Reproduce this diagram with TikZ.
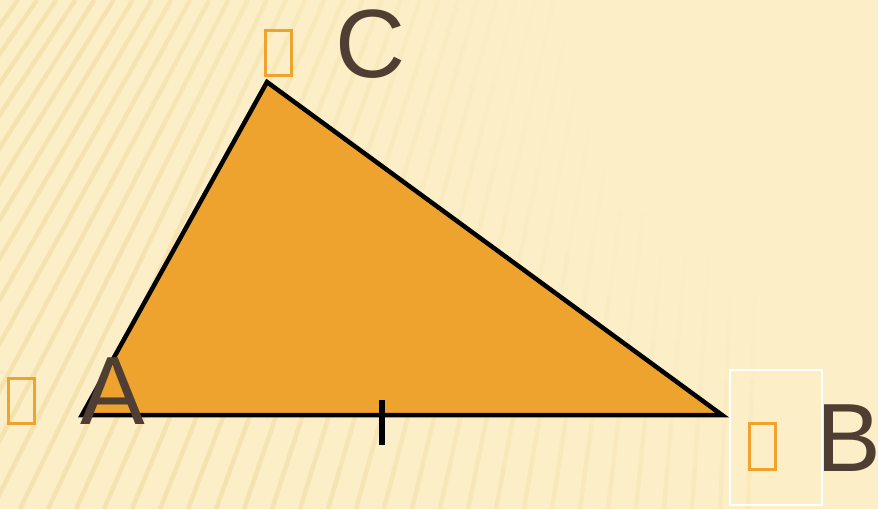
\documentclass[tikz,border=0pt]{standalone}
\usepackage{fontspec}
\setmainfont{Liberation Sans}
\definecolor{bgc}{HTML}{FCEFC8}
\definecolor{stripe}{HTML}{EFD89C}
\definecolor{tri}{HTML}{EFA32F}
\definecolor{lbl}{HTML}{4F3F33}
\definecolor{tofu}{HTML}{EFA32F}
\begin{document}
\begin{tikzpicture}[x=1pt,y=-1pt,
  lab/.style={anchor=base west,inner sep=0pt,text=lbl,font=\fontsize{97}{97}\selectfont},
  tofubox/.style={draw=tofu,line width=3pt},
  edge/.style={draw=black,line width=4.5pt,line join=miter},
  stripeline/.style={stripe,line width=4.5pt,line cap=butt}]
\useasboundingbox (0,0) rectangle (878,509);
\fill[bgc] (0,0) rectangle (878,509);
\begin{scope}
\clip (0,0) rectangle (878,509);
\foreach \xb in {-400,-372,...,760}{
  \foreach \k in {0,...,11}{
    \pgfmathsetmacro{\ya}{509-\k*42.42}
    \pgfmathsetmacro{\yb}{\ya-42.42}
    \pgfmathsetmacro{\xa}{\xb+(800-\xb)/1609*(509-\ya)}
    \pgfmathsetmacro{\xc}{\xb+(800-\xb)/1609*(509-\yb)}
    \pgfmathsetmacro{\dd}{100*veclen((878-(\xa+\xc)/2)/100,((\ya+\yb)/2)/100)}
    \pgfmathsetmacro{\op}{0.55*max(0,min(1,(\dd-320)/480))}
    \draw[stripeline,opacity=\op] (\xa,\ya) -- (\xc,\yb);
  }
}
\end{scope}
% vertices
\coordinate (A) at (82,415);
\coordinate (B) at (722,415);
\coordinate (C) at (267,82);
\filldraw[fill=tri,edge] (A) -- (B) -- (C) -- cycle;
% tick mark on AB
\coordinate (t1) at (382,400);
\coordinate (t2) at (382,445);
\draw[line width=6pt] (t1) -- (t2);
% labels
\node[lab] (la) at (80,424) {A};
\node[lab] (lb) at (816,471) {B};
\node[lab] (lc) at (335,77) {C};
% missing-glyph boxes
\draw[tofubox] (8,378) rectangle (34,423);
\draw[tofubox] (749,423) rectangle (775,469);
\draw[tofubox] (265,30) rectangle (291,75);
% white frame near B
\draw[white,line width=1.5pt] (730,370) rectangle (822,505);
\end{tikzpicture}
\end{document}
